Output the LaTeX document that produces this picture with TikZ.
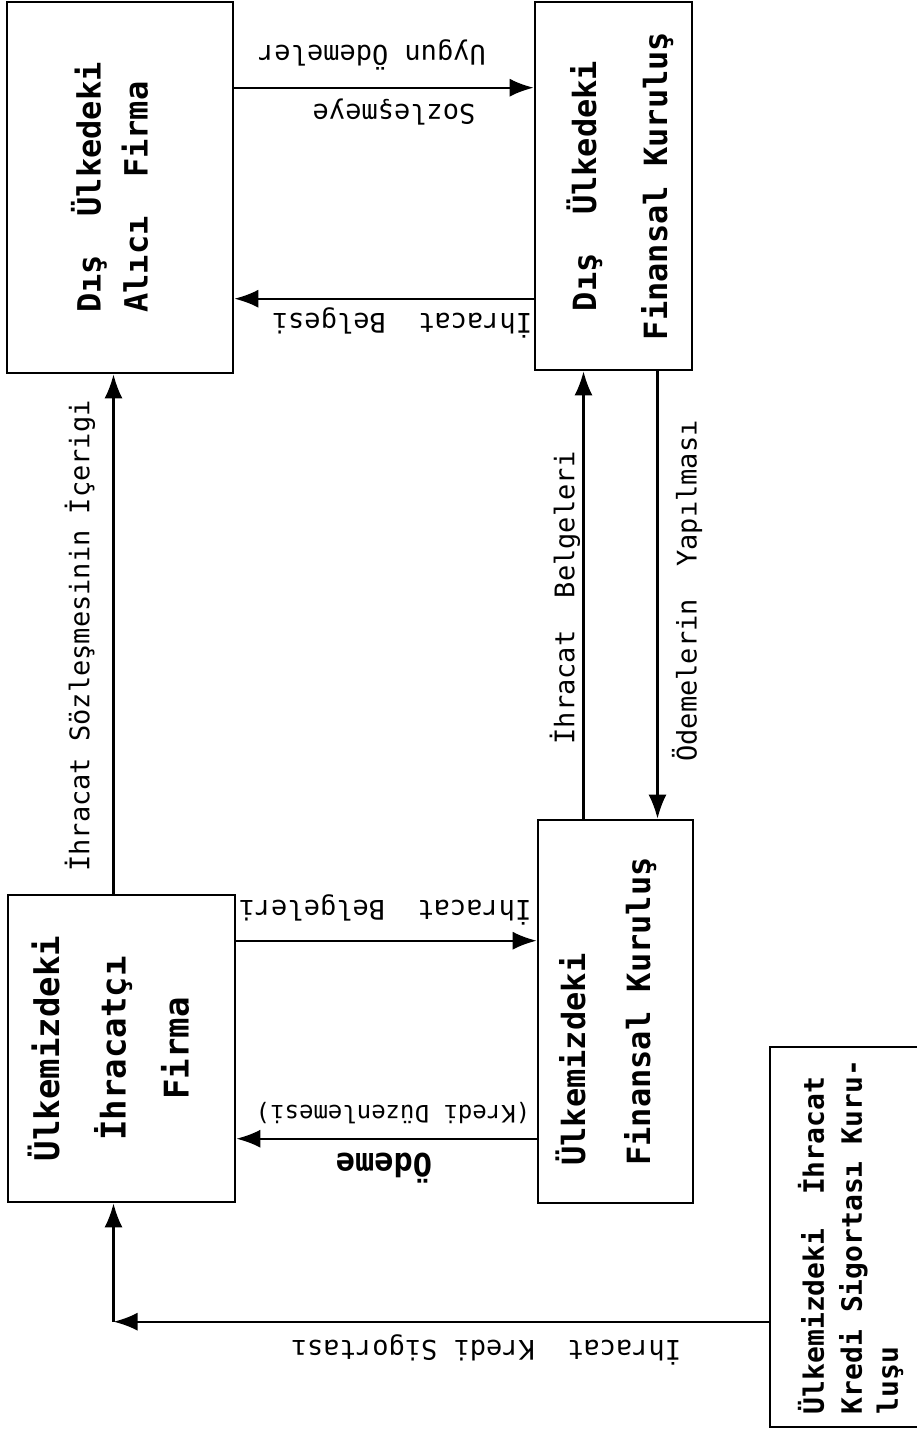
\documentclass[tikz,border=0pt]{standalone}
\usepackage{fontspec}
\setmainfont{DejaVu Sans Mono}
\usepackage{graphicx}
\usetikzlibrary{arrows.meta,positioning,calc}

\begin{document}
\begin{tikzpicture}[x=1pt, y=-1pt, >=Latex]
\tikzset{
  kutu/.style={draw, line width=2.6pt, inner sep=0pt, font=\bfseries\fontsize{32}{38}\selectfont},
  etiket/.style={inner sep=0pt, font=\fontsize{27}{32}\selectfont},
  ok/.style={-{Latex[length=24pt,width=18pt]}, line width=2.3pt},
}
\useasboundingbox (0,0) rectangle (917,1434);

% Boxes
\node (alici) [kutu, minimum width=226pt, minimum height=371pt] at (120,187.5)
  {\hspace*{-10pt}\rotatebox{90}{\begin{tabular}{@{}l@{}}Dış\ \ Ülkedeki\\[9pt] Alıcı\ \ Firma\end{tabular}}};
\node (disfin) [kutu, minimum width=157pt, minimum height=368pt] at (613.5,186)
  {\hspace*{18pt}\rotatebox{90}{\begin{tabular}{@{}c@{}}Dış\ \ Ülkedeki\\[33pt] Finansal Kuruluş\end{tabular}}};
\node (ihr) [kutu, font=\bfseries\fontsize{34}{40}\selectfont, minimum width=227pt, minimum height=307pt] at (121.5,1048.5)
  {\hspace*{-15pt}\rotatebox{90}{\begin{tabular}{@{}c@{}}Ülkemizdeki\\[23pt] İhracatçı\\[23pt] Firma\end{tabular}}};
\node (ulkfin) [kutu, minimum width=155pt, minimum height=383pt] at (615.5,1011.5)
  {\hspace*{-14pt}\rotatebox{90}{\begin{tabular}{@{}l@{}}Ülkemizdeki\\[27pt] Finansal Kuruluş\end{tabular}}};
\node (kredi) [kutu, font=\bfseries\fontsize{28}{34}\selectfont, minimum width=160pt, minimum height=380pt] at (850,1237)
  {\hspace*{6pt}\rotatebox{90}{\begin{tabular}{@{}l@{}}Ülkemizdeki\ \ İhracat\\[4pt] Kredi Sigortası Kuru-\\[2pt] luşu\end{tabular}}};

% Connectors
\draw[ok] ([yshift=-87pt]alici.north east) -- ([yshift=-87pt]disfin.north west);
\draw[ok] ([yshift=-298pt]disfin.north west) -- ([yshift=-298pt]alici.north east);

\coordinate (s1) at ([xshift=-8pt]ihr.north);
\draw[ok] (s1) -- (s1 |- alici.south);
\coordinate (s2) at ([xshift=-32pt]ulkfin.north);
\draw[ok] (s2) -- (s2 |- disfin.south);
\coordinate (s3) at ([xshift=44pt]disfin.south);
\draw[ok] (s3) -- (s3 |- ulkfin.north);

\coordinate (s4) at ([yshift=-47pt]ihr.north east);
\draw[ok] (s4) -- (s4 -| ulkfin.west);
\coordinate (s5) at ([yshift=-245pt]ihr.north east);
\draw[ok] (s5 -| ulkfin.west) -- (s5);

\coordinate (s6) at ([yshift=-276pt]kredi.north west);
\coordinate (kose) at (s6 -| s1);
\draw[ok] (s6) -- (kose);
\draw[ok] (kose) -- (kose |- ihr.south);

% Labels
\node (e1) [etiket, rotate=180] at (372,55) {Uygun Ödemeler};
\node (e2) [etiket, rotate=180] at (394,112) {Sozleşmeye};
\node (e3) [etiket, rotate=180] at (402,323) {İhracat\ \ Belgesi};
\node (e4) [etiket, rotate=90] at (80,636) {İhracat Sözleşmesinin İçerigi};
\node (e5) [etiket, rotate=90] at (565,598) {İhracat\ \ Belgeleri};
\node (e6) [etiket, rotate=90] at (687,591) {Ödemelerin\ \ Yapılması};
\node (e7) [etiket, rotate=180] at (385,910) {İhracat\ \ Belgeleri};
\node (e8) [etiket, rotate=180, font=\fontsize{24}{28}\selectfont] at (393,1113) {(Kredi Düzenlemesi)};
\node (e9) [etiket, rotate=180, font=\bfseries\fontsize{32}{36}\selectfont] at (384,1168) {Ödeme};
\node (e10) [etiket, rotate=180] at (486,1350) {İhracat\ \ Kredi Sigortası};

\end{tikzpicture}
\end{document}
